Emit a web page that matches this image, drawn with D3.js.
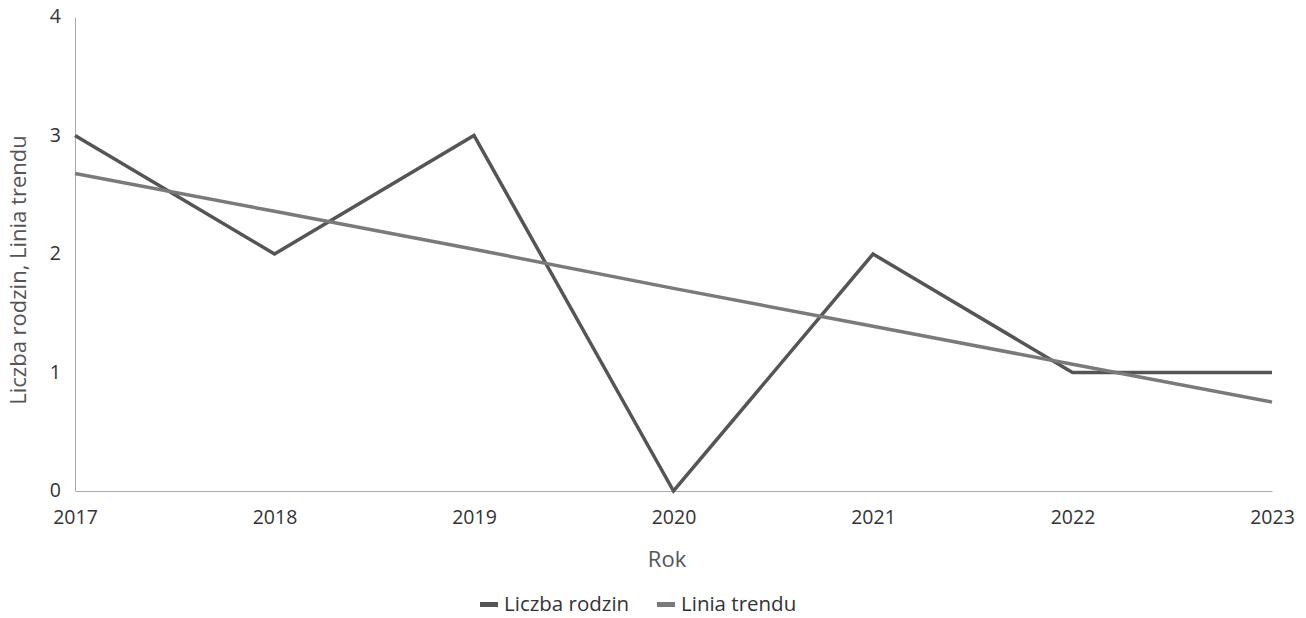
<!DOCTYPE html>
<html><head><meta charset="utf-8">
<script src="https://cdn.jsdelivr.net/npm/d3@7"></script>
<style>body{margin:0;background:#fff;} svg{display:block;font-family:"Open Sans",sans-serif;}</style>
</head><body><svg id="c" width="1306" height="618"></svg>
<script>
const years = ["2017","2018","2019","2020","2021","2022","2023"];
const liczbaRodzin = [3, 2, 3, 0, 2, 1, 1];
const liniaTrendu = [2.68, 2.36, 2.04, 1.71, 1.39, 1.07, 0.75];
const yTicks = [0, 1, 2, 3, 4];
const seriesNames = ["Liczba rodzin", "Linia trendu"];
const colors = ["#555555", "#7a7a7a"];

const svg = d3.select("#c");
const m = {left: 75, right: 1272, top: 17, bottom: 491};
const x = d3.scalePoint().domain(years).range([m.left, m.right]);
const y = d3.scaleLinear().domain([0, 4]).range([m.bottom, m.top]);

const gx = svg.append("g").attr("transform", `translate(0,${m.bottom})`)
  .call(d3.axisBottom(x).tickSize(0).tickPadding(19));
gx.select(".domain").attr("stroke", "#aaa");
gx.selectAll("text").attr("font-size", 19.5).attr("fill", "#333").attr("font-family", "Open Sans");

const gy = svg.append("g").attr("transform", `translate(${m.left},0)`)
  .call(d3.axisLeft(y).tickValues(yTicks).tickFormat(d3.format("d")).tickSize(0).tickPadding(14));
gy.select(".domain").attr("stroke", "#aaa");
gy.selectAll("text").attr("font-size", 19.5).attr("fill", "#333").attr("font-family", "Open Sans").attr("dy", "0.3em");

const line = d3.line().x((d, i) => x(years[i])).y(d => y(d));
[liczbaRodzin, liniaTrendu].forEach((s, k) => {
  svg.append("path").datum(s).attr("d", line).attr("fill", "none")
    .attr("stroke", colors[k]).attr("stroke-width", 3.5).attr("stroke-linejoin", "miter");
});

svg.append("text").attr("x", 667).attr("y", 567).attr("text-anchor", "middle")
  .attr("font-size", 22).attr("fill", "#555").text("Rok");
svg.append("text").attr("transform", `translate(26,270) rotate(-90)`)
  .attr("text-anchor", "middle").attr("font-size", 22).attr("fill", "#555").text("Liczba rodzin, Linia trendu");

const leg = svg.append("g");
const legX = [480, 657];
seriesNames.forEach((n, k) => {
  leg.append("rect").attr("x", legX[k]).attr("y", 602).attr("width", 18).attr("height", 5).attr("fill", colors[k]);
  leg.append("text").attr("x", legX[k] + 24).attr("y", 611).attr("font-size", 20.5).attr("fill", "#333").text(n);
});
</script></body></html>
